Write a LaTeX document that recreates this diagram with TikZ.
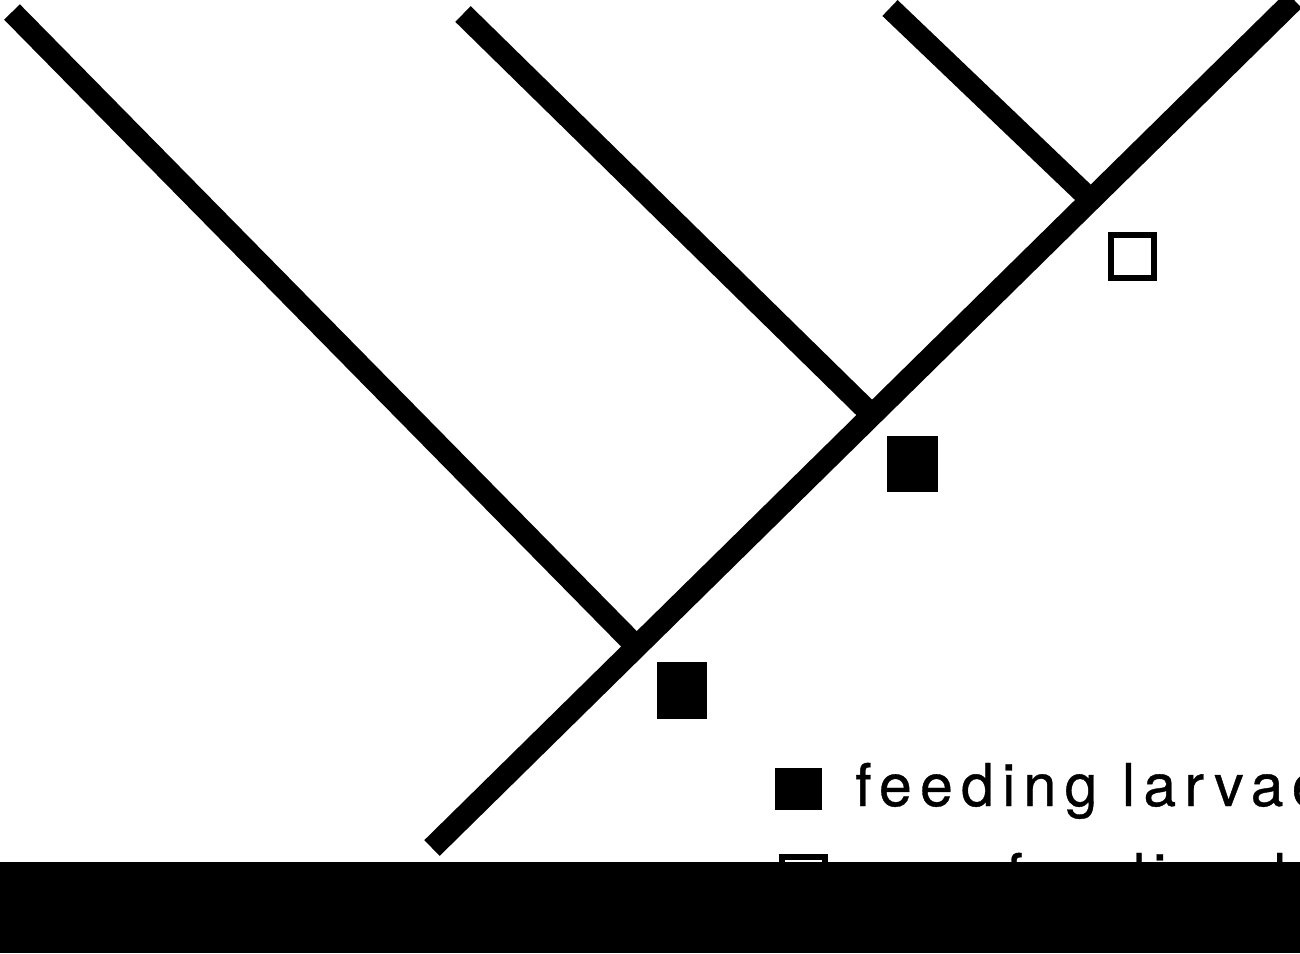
\documentclass[tikz,border=0pt]{standalone}
\usepackage{fontspec}
\newfontfamily\legendfont[LetterSpace=14, FakeBold=0.6]{TeX Gyre Heros}
\tikzset{
  branch/.style={line width=22pt, line cap=butt},
  feedmark/.style={fill=black, inner sep=0pt, minimum width=50pt, minimum height=56pt},
  nofeedmark/.style={draw=black, line width=6pt, fill=white, inner sep=0pt, minimum width=43pt, minimum height=42pt},
  legendtext/.style={anchor=base west, inner sep=0pt, font=\legendfont\fontsize{59}{64}\selectfont}
}
\begin{document}
\begin{tikzpicture}[x=1pt, y=-1pt]
      \useasboundingbox (0, 0) rectangle (1300, 953);
      \clip (0, 0) rectangle (1300, 953);
      % stem and branching points
      \coordinate (root) at (432, 848);
      \coordinate (tip) at (1294, 0);
      \coordinate (n1) at (637, 647);
      \coordinate (n2) at (873, 416);
      \coordinate (n3) at (1092, 201);
      % leaves
      \coordinate (a) at (12, 12);
      \coordinate (b) at (463, 14);
      \coordinate (c) at (890, 8);
      \draw [branch] (root) -- (tip);
      \draw [branch] (a) -- (n1);
      \draw [branch] (b) -- (n2);
      \draw [branch] (c) -- (n3);
      % character states
      \node [feedmark, minimum height=57pt] (s1) at (682, 690) {};
      \node [feedmark, minimum width=51pt] (s2) at (912, 464) {};
      \node [nofeedmark, minimum height=43pt] (s3) at (1132, 256) {};
      % legend
      \node [feedmark, minimum width=47pt, minimum height=42pt] (k1) at (798, 789) {};
      \node [legendtext] (t1) at (855, 806) {feeding larvae};
      \node [nofeedmark] (k2) at (803, 878) {};
      \node [legendtext] (t2) at (855, 896) {non-feeding larvae};
      \fill [black] (0, 862) rectangle (1300, 953);
    \end{tikzpicture}
\end{document}
